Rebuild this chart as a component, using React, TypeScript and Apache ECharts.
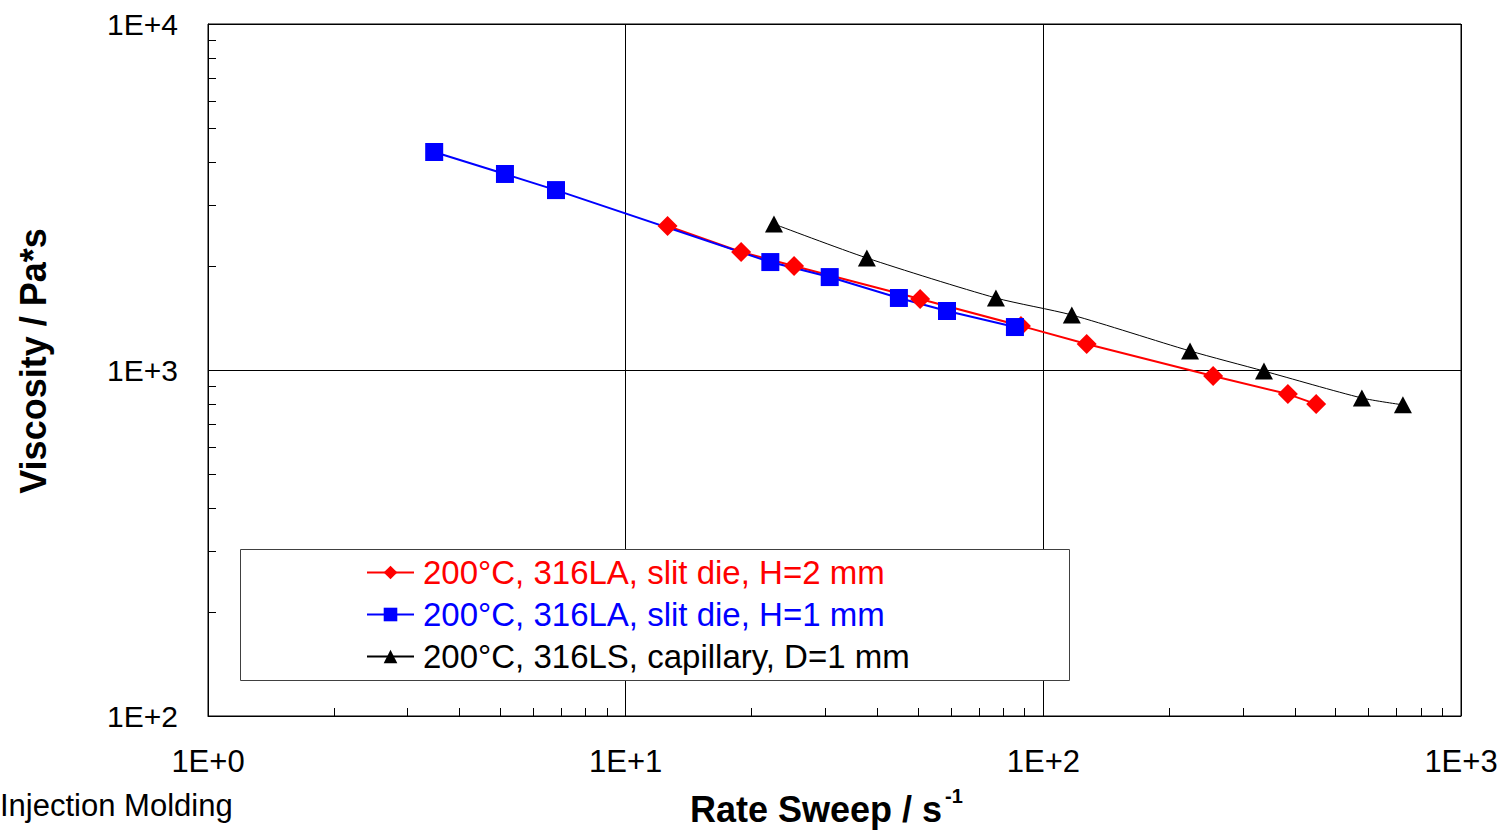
import React, { useEffect, useRef } from "react";
import * as echarts from "echarts";

const redName = "200°C, 316LA, slit die, H=2 mm";
const blueName = "200°C, 316LA, slit die, H=1 mm";
const blackName = "200°C, 316LS, capillary, D=1 mm";

const redX = [12.6, 18.9, 25.3, 50.7, 88.4, 127, 255, 385, 450];
const redY = [2607, 2193, 1999, 1604, 1341, 1189, 961, 852, 797];
const blueX = [3.48, 5.14, 6.81, 22.2, 30.8, 45.1, 58.8, 85.5];
const blueY = [4266, 3686, 3311, 2051, 1856, 1615, 1481, 1331];
const blackX = [22.65, 37.8, 77.0, 117, 224.5, 337.5, 579, 726];
const blackY = [2642, 2107, 1615, 1442, 1135, 993, 830, 793];

const xMinorTicks = [2, 3, 4, 5, 6, 7, 8, 9, 20, 30, 40, 50, 60, 70, 80, 90, 200, 300, 400, 500, 600, 700, 800, 900];
const yMinorTicks = [200, 300, 400, 500, 600, 700, 800, 900, 2000, 3000, 4000, 5000, 6000, 7000, 8000, 9000];

const FONT = "'Liberation Sans', Arial, sans-serif";

const zip = (xs: number[], ys: number[]) => xs.map((x, i) => [x, ys[i]]);

export default function App() {
  const ref = useRef<HTMLDivElement>(null);
  useEffect(() => {
    if (!ref.current) return;
    const chart = echarts.init(ref.current, undefined, { renderer: "svg" });
    const fmt = (v: number) => "1E+" + Math.round(Math.log10(v));
    chart.setOption({
      animation: false,
      backgroundColor: "#fff",
      grid: {
        left: 208,
        top: 24,
        width: 1253,
        height: 692,
        show: true,
        borderColor: "#000",
        borderWidth: 1,
        backgroundColor: "transparent",
      },
      xAxis: {
        type: "log",
        logBase: 10,
        min: 1,
        max: 1000,
        axisLine: { show: true, lineStyle: { color: "#000", width: 1 } },
        axisTick: { show: false },
        minorTick: { show: false },
        splitLine: { show: true, lineStyle: { color: "#000", width: 1 } },
        axisLabel: {
          formatter: fmt,
          fontFamily: FONT,
          fontSize: 31,
          color: "#000",
          margin: 30,
        },
      },
      yAxis: {
        type: "log",
        logBase: 10,
        min: 100,
        max: 10000,
        axisLine: { show: true, lineStyle: { color: "#000", width: 1 } },
        axisTick: { show: false },
        minorTick: { show: false },
        splitLine: { show: true, lineStyle: { color: "#000", width: 1 } },
        axisLabel: {
          formatter: fmt,
          fontFamily: FONT,
          fontSize: 30,
          color: "#000",
          margin: 30,
        },
      },
      legend: {
        orient: "vertical",
        left: 366,
        top: 556,
        padding: 0,
        itemWidth: 47,
        itemHeight: 17,
        itemGap: 9,
        z: 10,
        selectedMode: false,
        textStyle: { fontFamily: FONT, fontSize: 33, padding: [0, 0, 0, 4] },
        data: [
          { name: redName, textStyle: { color: "#ff0000" } },
          { name: blueName, textStyle: { color: "#0000ff" } },
          { name: blackName, textStyle: { color: "#000000" } },
        ],
      },
      graphic: [
        {
          type: "rect",
          z: 5,
          shape: { x: 240.5, y: 549.5, width: 829, height: 131 },
          style: { fill: "#fff", stroke: "#404040", lineWidth: 1 },
        },
        {
          type: "text",
          x: 33,
          y: 361,
          rotation: Math.PI / 2,
          style: {
            text: "Viscosity / Pa*s",
            fill: "#000",
            fontFamily: FONT,
            fontSize: 36,
            fontWeight: "bold",
            align: "center",
            verticalAlign: "middle",
            textAlign: "center",
            textVerticalAlign: "middle",
          },
        },
        {
          type: "text",
          x: 816,
          y: 809,
          style: {
            text: "Rate Sweep / s",
            fill: "#000",
            fontFamily: FONT,
            fontSize: 36,
            fontWeight: "bold",
            align: "center",
            verticalAlign: "middle",
            textAlign: "center",
            textVerticalAlign: "middle",
          },
        },
        {
          type: "text",
          x: 945,
          y: 796,
          style: {
            text: "-1",
            fill: "#000",
            fontFamily: FONT,
            fontSize: 20,
            fontWeight: "bold",
            align: "left",
            verticalAlign: "middle",
            textAlign: "left",
            textVerticalAlign: "middle",
          },
        },
        {
          type: "text",
          x: 0,
          y: 805,
          style: {
            text: "Injection Molding",
            fill: "#000",
            fontFamily: FONT,
            fontSize: 31,
            align: "left",
            verticalAlign: "middle",
            textAlign: "left",
            textVerticalAlign: "middle",
          },
        },
      ],
      series: [
        {
          name: redName,
          type: "line",
          data: zip(redX, redY),
          symbol: "diamond",
          symbolSize: 20,
          lineStyle: { color: "#ff0000", width: 2 },
          itemStyle: { color: "#ff0000" },
          z: 3,
        },
        {
          name: blueName,
          type: "line",
          data: zip(blueX, blueY),
          symbol: "rect",
          symbolSize: 18,
          lineStyle: { color: "#0000ff", width: 2 },
          itemStyle: { color: "#0000ff" },
          z: 3,
        },
        {
          name: blackName,
          type: "line",
          data: zip(blackX, blackY),
          symbol: "triangle",
          symbolSize: [18, 17],
          smooth: 0.25,
          lineStyle: { color: "#000000", width: 1 },
          itemStyle: { color: "#000000" },
          z: 3,
        },
        {
          type: "custom",
          silent: true,
          clip: false,
          data: xMinorTicks.map((v) => [v, 100]),
          renderItem: (_p: any, api: any) => {
            const c = api.coord([api.value(0), api.value(1)]);
            const x = Math.round(c[0]) + 0.5;
            return {
              type: "line",
              shape: { x1: x, y1: c[1], x2: x, y2: c[1] - 8 },
              style: { stroke: "#000", lineWidth: 1 },
            };
          },
          z: 2,
        },
        {
          type: "custom",
          silent: true,
          clip: false,
          data: yMinorTicks.map((v) => [1, v]),
          renderItem: (_p: any, api: any) => {
            const c = api.coord([api.value(0), api.value(1)]);
            const y = Math.round(c[1]) + 0.5;
            return {
              type: "line",
              shape: { x1: c[0], y1: y, x2: c[0] + 8, y2: y },
              style: { stroke: "#000", lineWidth: 1 },
            };
          },
          z: 2,
        },
      ],
    });
    return () => chart.dispose();
  }, []);
  return (
    <div
      ref={ref}
      style={{ position: "absolute", left: 0, top: 0, width: 1507, height: 839 }}
    />
  );
}
